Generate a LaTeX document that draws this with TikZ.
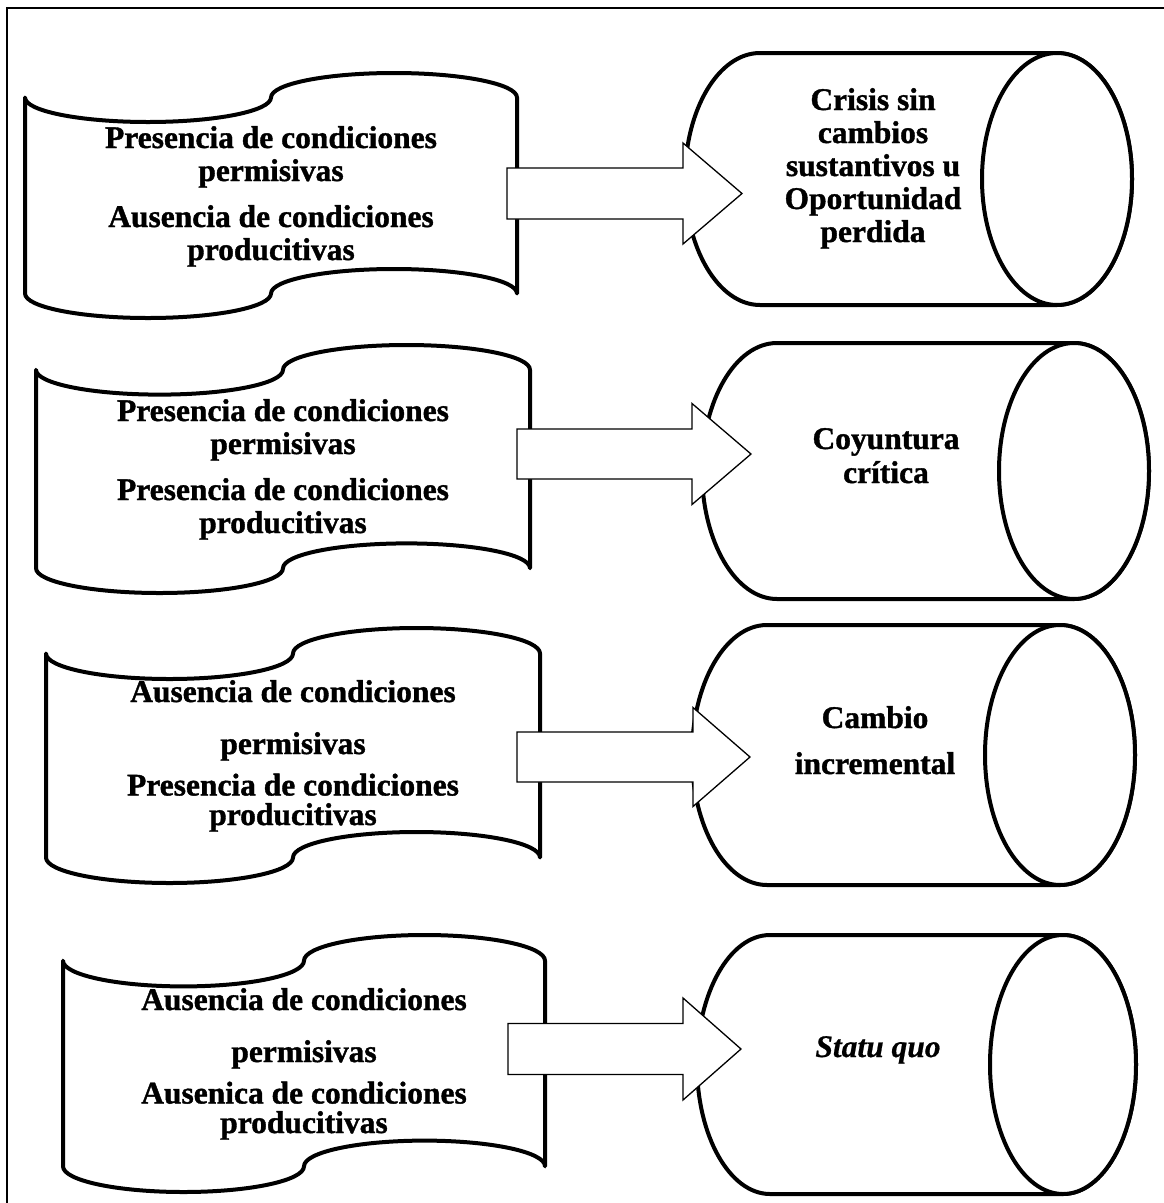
\documentclass[tikz,border=0pt]{standalone}
\usepackage{fontspec}
\setmainfont{Liberation Serif}
\newfontfamily\tbf{Liberation Serif Bold}[FakeBold=1.2]
\newfontfamily\tbi{Liberation Serif Bold Italic}[FakeBold=0.6]
\newcommand\txtlines[2]{\vtop{\baselineskip=#1\lineskiplimit=-100pt\lineskip=0pt\halign{\hfil##\hfil\cr#2\crcr}}}
\newcommand\tapeshape[4]{%
  \pgfmathsetmacro\tW{(#2-#1)/4}\pgfmathsetmacro\tR{(#4-#3)/10}%
  \draw[shp] (#1,#3+\tR)
    arc[start angle=180,end angle=0,x radius=\tW,y radius=\tR]
    arc[start angle=180,end angle=360,x radius=\tW,y radius=\tR]
    -- (#2,#4-\tR)
    arc[start angle=360,end angle=180,x radius=\tW,y radius=\tR]
    arc[start angle=0,end angle=180,x radius=\tW,y radius=\tR]
    -- cycle;}
\newcommand\cylshape[5]{%
  \pgfmathsetmacro\cR{(#4-#3)/2}%
  \draw[shp] (#2,#3) -- (#1,#3)
    arc[start angle=270,end angle=90,x radius=#5,y radius=\cR]
    -- (#2,#4)
    arc[start angle=90,end angle=-90,x radius=#5,y radius=\cR] -- cycle;
  \draw[shp] (#2,#3+\cR) ellipse[x radius=#5,y radius=\cR];}
\begin{document}
\begin{tikzpicture}[x=1pt,y=-1pt,
  shp/.style={draw=black,line width=4pt,fill=white,line join=round},
  barrow/.style={draw=black,line width=1.3pt,fill=white,line join=miter},
  txt/.style={anchor=base,inner sep=0pt,font=\fontsize{31.5}{33}\selectfont\tbf},
  txti/.style={anchor=base,inner sep=0pt,font=\fontsize{31.5}{33}\selectfont\tbi},
  frame/.style={draw=black,line width=2.2pt}]
\useasboundingbox (0,0) rectangle (1164,1203);
\fill[white] (0,0) rectangle (1164,1203);
\draw[frame] (7,8) rectangle (1172,1212);

% tapes (left)
\tapeshape{25}{517}{73}{318}
\tapeshape{36}{530}{345}{593}
\tapeshape{46}{540}{628}{883}
\tapeshape{63}{545}{935}{1192}

% cylinders (right)
\cylshape{760}{1057}{53}{305}{75}
\cylshape{777}{1074}{343}{599}{75}
\cylshape{767}{1060}{625}{885}{75}
\cylshape{770}{1063}{935}{1194}{73}

% texts
\node[txt] (t1) at (271,148) {\txtlines{33pt}{Presencia de condiciones\cr permisivas\cr\noalign{\vskip13pt}Ausencia de condiciones\cr producitivas}};
\node[txt] (t2) at (283,421) {\txtlines{33pt}{Presencia de condiciones\cr permisivas\cr\noalign{\vskip13pt}Presencia de condiciones\cr producitivas}};
\node[txt] (t3) at (293,702) {\txtlines{29.5pt}{Ausencia de condiciones\cr\noalign{\vskip22.5pt}permisivas\cr\noalign{\vskip12pt}Presencia de condiciones\cr producitivas}};
\node[txt] (t4) at (304,1010) {\txtlines{29.5pt}{Ausencia de condiciones\cr\noalign{\vskip22.5pt}permisivas\cr\noalign{\vskip12pt}Ausenica de condiciones\cr producitivas}};

\node[txt] (c1) at (873,110) {\txtlines{33pt}{Crisis sin\cr cambios\cr sustantivos u\cr Oportunidad\cr perdida}};
\node[txt] (c2) at (886,449) {\txtlines{34pt}{Coyuntura\cr crítica}};
\node[txt] (c3) at (875,728) {\txtlines{46pt}{Cambio\cr incremental}};
\node[txti] (c4) at (878,1057) {\txtlines{33pt}{Statu quo}};

% block arrows
\coordinate (a1s) at (507,193.5); \coordinate (a1e) at (742,193.5);
\coordinate (a2s) at (517,454);   \coordinate (a2e) at (751,454);
\coordinate (a3s) at (517,757);   \coordinate (a3e) at (750,757);
\coordinate (a4s) at (508,1049);  \coordinate (a4e) at (741,1049);
\draw[barrow] (a1s) ++(0,-25.5) -- ++(176,0) -- ++(0,-25) -- (a1e) -- ++(-59,50.5) -- ++(0,-25) -- ++(-176,0) -- cycle;
\draw[barrow] (a2s) ++(0,-25) -- ++(175,0) -- ++(0,-25.5) -- (a2e) -- ++(-59,50.5) -- ++(0,-25.5) -- ++(-175,0) -- cycle;
\draw[barrow] (a3s) ++(0,-25) -- ++(176,0) -- ++(0,-24.5) -- (a3e) -- ++(-57,49.5) -- ++(0,-24.5) -- ++(-176,0) -- cycle;
\draw[barrow] (a4s) ++(0,-25.5) -- ++(175,0) -- ++(0,-25.5) -- (a4e) -- ++(-58,51) -- ++(0,-25.5) -- ++(-175,0) -- cycle;
\end{tikzpicture}
\end{document}
